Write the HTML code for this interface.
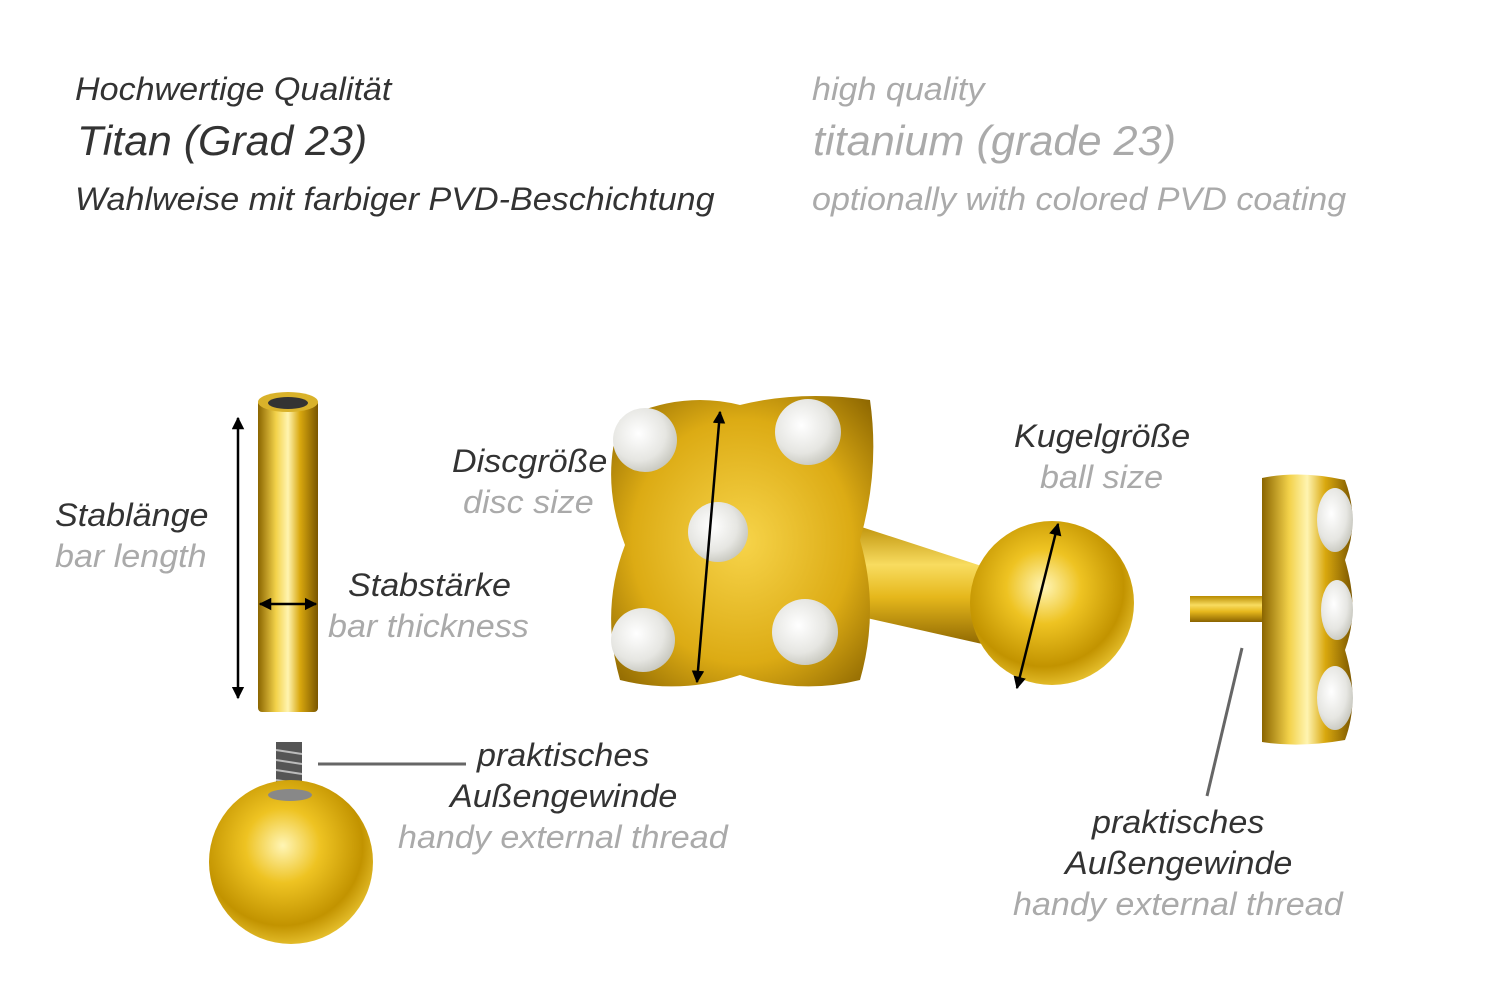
<!DOCTYPE html>
<html><head><meta charset="utf-8"><style>
body{margin:0;width:1500px;height:1001px;background:#fff;overflow:hidden;position:relative;font-family:"Liberation Sans",sans-serif;font-style:italic}
.t{position:absolute;white-space:nowrap;color:#333;line-height:1;transform:scaleX(1.065);transform-origin:left top}
.g{color:#aaa}
</style></head><body>
<div class="t" style="left:75px;top:73px;font-size:32px">Hochwertige Qualität</div>
<div class="t" style="left:77px;top:120px;font-size:42px;transform:scaleX(1.02)">Titan (Grad 23)</div>
<div class="t" style="left:75px;top:183px;font-size:32px">Wahlweise mit farbiger PVD-Beschichtung</div>
<div class="t g" style="left:812px;top:73px;font-size:32px">high quality</div>
<div class="t g" style="left:813px;top:120px;font-size:42px;transform:scaleX(1.03)">titanium (grade 23)</div>
<div class="t g" style="left:812px;top:183px;font-size:32px">optionally with colored PVD coating</div>

<div class="t" style="left:55px;top:499px;font-size:32px">Stablänge</div>
<div class="t g" style="left:55px;top:540px;font-size:32px">bar length</div>
<div class="t" style="left:348px;top:569px;font-size:32px">Stabstärke</div>
<div class="t g" style="left:328px;top:610px;font-size:32px">bar thickness</div>
<div class="t" style="left:452px;top:445px;font-size:32px">Discgröße</div>
<div class="t g" style="left:463px;top:486px;font-size:32px">disc size</div>
<div class="t" style="left:1014px;top:420px;font-size:32px">Kugelgröße</div>
<div class="t g" style="left:1040px;top:461px;font-size:32px">ball size</div>
<div class="t" style="left:477px;top:739px;font-size:32px">praktisches</div>
<div class="t" style="left:450px;top:780px;font-size:32px">Außengewinde</div>
<div class="t g" style="left:398px;top:821px;font-size:32px">handy external thread</div>
<div class="t" style="left:1092px;top:806px;font-size:32px">praktisches</div>
<div class="t" style="left:1065px;top:847px;font-size:32px">Außengewinde</div>
<div class="t g" style="left:1013px;top:888px;font-size:32px">handy external thread</div>

<svg width="1500" height="1001" style="position:absolute;left:0;top:0">
<defs>
<linearGradient id="bar" x1="0" x2="1"><stop offset="0" stop-color="#8a6500"/><stop offset=".3" stop-color="#f3d24a"/><stop offset=".5" stop-color="#fff4b0"/><stop offset=".7" stop-color="#d9a80e"/><stop offset="1" stop-color="#7a5600"/></linearGradient>
<linearGradient id="stem" x1="0" y1="0" x2="0" y2="1"><stop offset="0" stop-color="#b88a00"/><stop offset=".35" stop-color="#f8dc60"/><stop offset=".6" stop-color="#e6b81c"/><stop offset="1" stop-color="#8a6300"/></linearGradient>
<radialGradient id="ball" cx=".45" cy=".4" r=".65"><stop offset="0" stop-color="#fff5b5"/><stop offset=".35" stop-color="#eec322"/><stop offset=".75" stop-color="#c29300"/><stop offset="1" stop-color="#f0cc3a"/></radialGradient>
<radialGradient id="disc" cx=".5" cy=".5" r=".7"><stop offset="0" stop-color="#f7d44a"/><stop offset=".6" stop-color="#dcab14"/><stop offset="1" stop-color="#8a6400"/></radialGradient>
<radialGradient id="gem" cx=".4" cy=".4" r=".7"><stop offset="0" stop-color="#fff"/><stop offset=".6" stop-color="#e6e6e2"/><stop offset="1" stop-color="#bfbfb5"/></radialGradient>
<marker id="a" viewBox="0 0 10 10" refX="9" refY="5" markerWidth="5" markerHeight="5" orient="auto-start-reverse"><path d="M0,0L10,5L0,10z" fill="#000"/></marker>
</defs>
<rect x="258" y="400" width="60" height="312" rx="4" fill="url(#bar)"/>
<ellipse cx="288" cy="402" rx="30" ry="10" fill="#d9b22a"/>
<ellipse cx="288" cy="403" rx="20" ry="6" fill="#333"/>
<rect x="276" y="742" width="26" height="55" fill="#555"/>
<g stroke="#bbb" stroke-width="2"><line x1="276" y1="750" x2="302" y2="754"/><line x1="276" y1="760" x2="302" y2="764"/><line x1="276" y1="770" x2="302" y2="774"/><line x1="276" y1="780" x2="302" y2="784"/></g>
<circle cx="291" cy="862" r="82" fill="url(#ball)"/>
<ellipse cx="290" cy="795" rx="22" ry="6" fill="#888"/>
<path d="M840,520 L1000,572 L1000,648 L840,612 Z" fill="url(#stem)"/>
<circle cx="1052" cy="603" r="82" fill="url(#ball)"/>
<path d="M620,420 Q680,390 740,405 Q800,390 870,400 Q880,470 860,540 Q880,610 860,680 Q800,695 740,675 Q680,695 620,680 Q600,610 625,545 Q600,480 620,420Z" fill="url(#disc)"/>
<g fill="url(#gem)"><circle cx="645" cy="440" r="32"/><circle cx="808" cy="432" r="33"/><circle cx="718" cy="532" r="30"/><circle cx="643" cy="640" r="32"/><circle cx="805" cy="632" r="33"/></g>
<rect x="1190" y="596" width="75" height="26" fill="url(#stem)"/>
<path d="M1262,478 Q1300,470 1345,480 Q1360,520 1345,560 Q1360,610 1345,650 Q1360,700 1345,740 Q1300,748 1262,742Z" fill="url(#bar)"/>
<g fill="url(#gem)"><ellipse cx="1335" cy="520" rx="18" ry="32"/><ellipse cx="1337" cy="610" rx="16" ry="30"/><ellipse cx="1335" cy="698" rx="18" ry="32"/></g>
<g stroke="#000" stroke-width="2.5" fill="none">
<line x1="238" y1="418" x2="238" y2="698" marker-start="url(#a)" marker-end="url(#a)"/>
<line x1="260" y1="604" x2="316" y2="604" marker-start="url(#a)" marker-end="url(#a)"/>
<line x1="720" y1="412" x2="697" y2="682" marker-start="url(#a)" marker-end="url(#a)"/>
<line x1="1058" y1="524" x2="1017" y2="688" marker-start="url(#a)" marker-end="url(#a)"/>
</g>
<g stroke="#666" stroke-width="3"><line x1="318" y1="764" x2="466" y2="764"/><line x1="1242" y1="648" x2="1207" y2="796"/></g>
</svg>
</body></html>
